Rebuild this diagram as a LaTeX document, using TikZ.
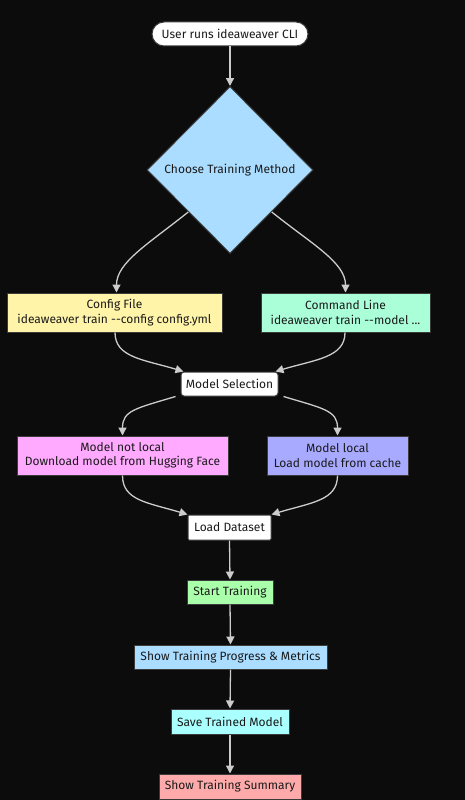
\documentclass[tikz,border=0pt]{standalone}
\usepackage{fontspec}
\setmainfont{Fira Sans}
\usetikzlibrary{shapes.geometric,arrows.meta}
\definecolor{bgc}{HTML}{0C0C0C}
\definecolor{edgec}{HTML}{CCCCCC}
\definecolor{bordc}{HTML}{3A3A3A}
\definecolor{txtc}{HTML}{1A1A1A}
\definecolor{cdiam}{HTML}{AADDFF}
\definecolor{cyel}{HTML}{FFF4A8}
\definecolor{cmint}{HTML}{AAFFD9}
\definecolor{cpink}{HTML}{FFAAFF}
\definecolor{cviol}{HTML}{A8AAFF}
\definecolor{cgreen}{HTML}{AAFFAA}
\definecolor{cblue}{HTML}{AADDFF}
\definecolor{ccyan}{HTML}{AAFFFF}
\definecolor{cred}{HTML}{FFAAAA}
\tikzset{
  box/.style={draw=bordc, line width=1pt, text=txtc, inner sep=0pt, align=center,
    font=\fontsize{12}{14.5}\selectfont},
  edge/.style={draw=edgec, line width=1.3pt, -{Triangle[length=8pt,width=8pt]}},
}
\begin{document}
\begin{tikzpicture}[x=1pt,y=-1pt]
\fill[bgc] (0,0) rectangle (465,800);
\useasboundingbox (0,0) rectangle (465,800);
\clip (0,0) rectangle (465,800);
% nodes
\node[box, fill=white, rounded corners=12pt, minimum width=156pt, minimum height=24pt] (start) at (230,34) {User runs ideaweaver CLI};
\node[draw=bordc, line width=1pt, fill=cdiam, diamond, minimum width=166pt, minimum height=167pt, inner sep=0pt] (choose) at (230,170) {};
\node[text=txtc, font=\fontsize{12}{14.5}\selectfont] (choosetxt) at (choose.center) {Choose Training Method};
\node[box, fill=cyel, minimum width=215pt, minimum height=39pt] (config) at (114.5,312.5) {Config File\\ideaweaver train -{}-config config.yml};
\node[box, fill=cmint, minimum width=169pt, minimum height=39pt] (cmd) at (345.5,312.5) {Command Line\\ideaweaver train -{}-model ...};
\node[box, fill=white, rounded corners=3pt, minimum width=97pt, minimum height=24pt] (msel) at (229.5,384) {Model Selection};
\node[box, fill=cpink, minimum width=211pt, minimum height=39pt] (notlocal) at (122.5,455.5) {Model not local\\Download model from Hugging Face};
\node[box, fill=cviol, minimum width=141pt, minimum height=39pt] (local) at (337.5,455.5) {Model local\\Load model from cache};
\node[box, fill=white, rounded corners=1pt, minimum width=83pt, minimum height=25pt] (load) at (229.5,527.5) {Load Dataset};
\node[box, fill=cgreen, minimum width=86pt, minimum height=24pt] (train) at (230,592) {Start Training};
\node[box, fill=cblue, minimum width=193pt, minimum height=24pt] (prog) at (230.5,657) {Show Training Progress \& Metrics};
\node[box, fill=ccyan, minimum width=118pt, minimum height=25pt] (save) at (230,721.5) {Save Trained Model};
\node[box, fill=cred, minimum width=142pt, minimum height=25pt] (summ) at (230,786.5) {Show Training Summary};
\coordinate (below) at (230,830);
% edges
\draw[edge] (start.south) -- (choose.north);
\draw[edge] (choose.south west) .. controls +(-40,32) and +(0,-30) .. ([xshift=2pt]config.north);
\draw[edge] (choose.south east) .. controls +(40,32) and +(0,-30) .. ([xshift=0pt]cmd.north);
\draw[edge] ([xshift=0.5pt]config.south) .. controls +(0,25) and +(-40,-12) .. ([xshift=3pt]msel.north west);
\draw[edge] ([xshift=-0.5pt]cmd.south) .. controls +(0,25) and +(40,-12) .. ([xshift=-3pt]msel.north east);
\draw[edge] ([xshift=-5pt]msel.south west) .. controls +(-40,12) and +(0,-25) .. ([xshift=0pt]notlocal.north);
\draw[edge] ([xshift=5pt]msel.south east) .. controls +(40,12) and +(0,-25) .. ([xshift=0pt]local.north);
\draw[edge] (notlocal.south) .. controls +(0,25) and +(-40,-12) .. ([xshift=0pt]load.north west);
\draw[edge] (local.south) .. controls +(0,25) and +(40,-12) .. ([xshift=0pt]load.north east);
\draw[edge] (load.south) -- (train.north);
\draw[edge] (train.south) -- (prog.north);
\draw[edge] (prog.south) -- (save.north);
\draw[edge] (save.south) -- (summ.north);
\draw[edge] (summ.south) -- (below);
\end{tikzpicture}
\end{document}
